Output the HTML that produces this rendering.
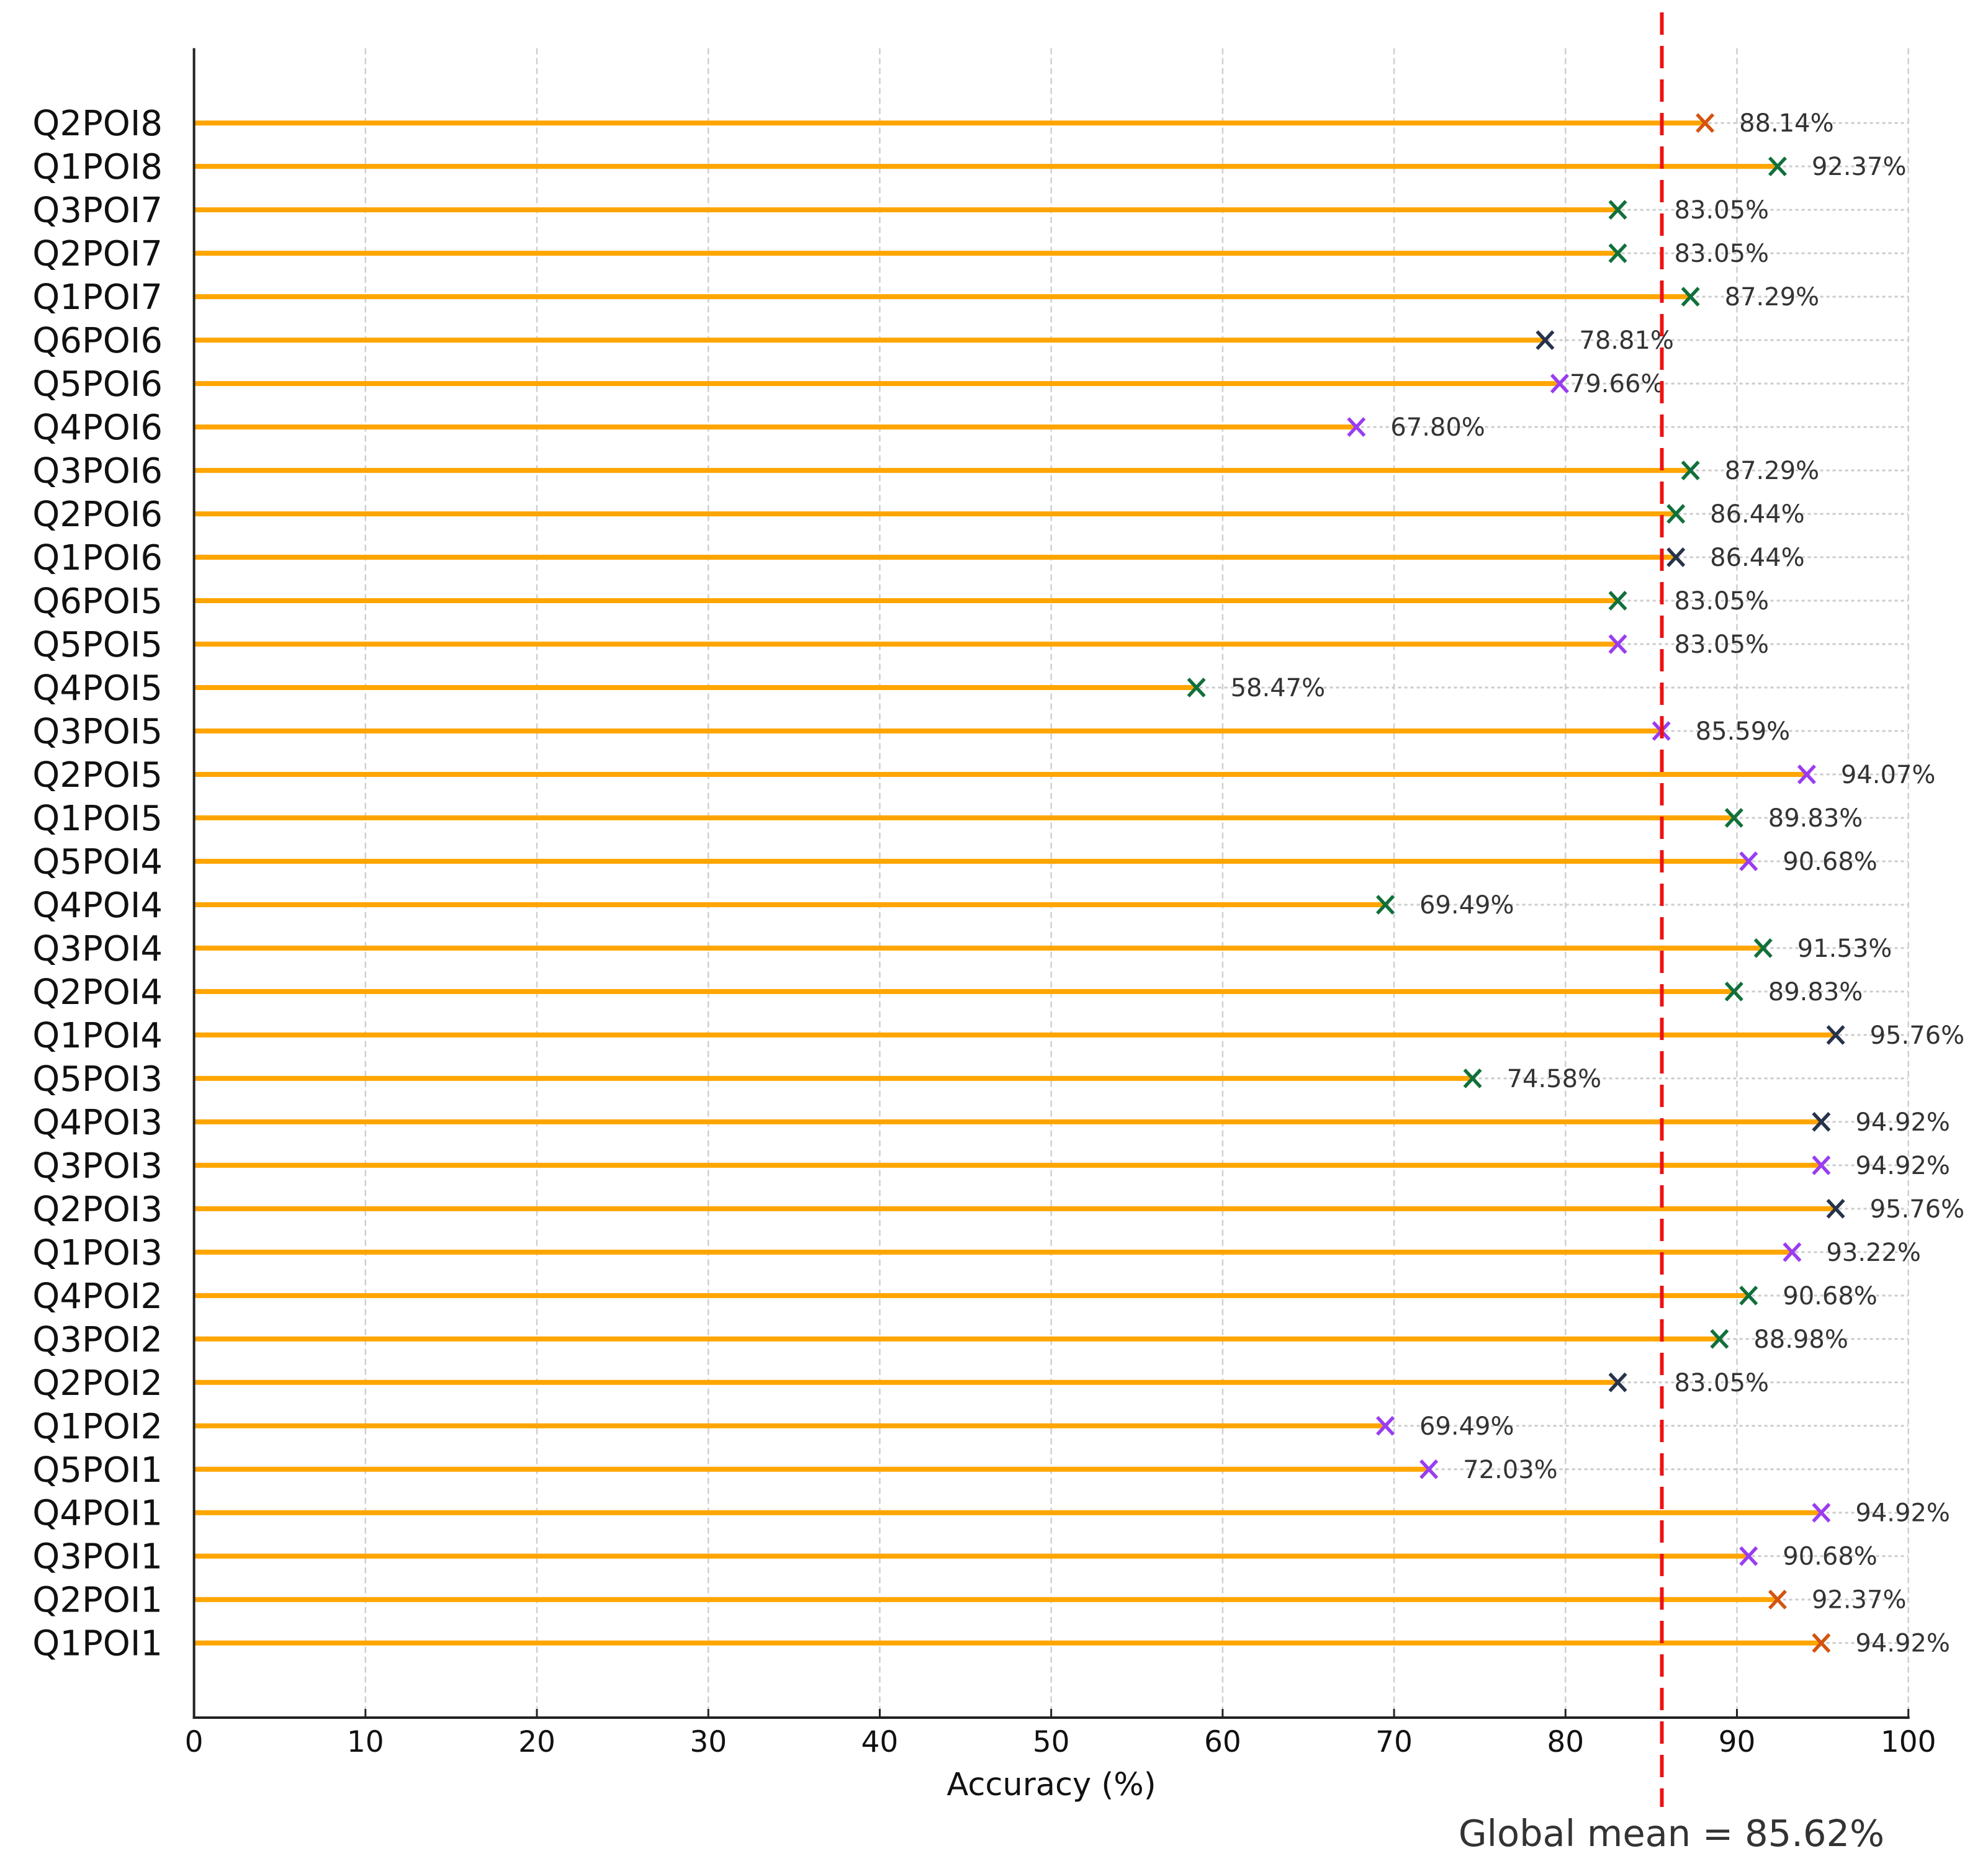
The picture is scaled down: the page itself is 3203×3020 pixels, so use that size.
<!DOCTYPE html>
<html><head><meta charset="utf-8"><style>
html,body{margin:0;padding:0;background:#fff;}
svg{display:block;font-family:"DejaVu Sans","Liberation Sans",sans-serif;}
</style></head><body>
<svg id="chart" width="3203" height="3020" viewBox="0 0 3203 3020" xmlns="http://www.w3.org/2000/svg">
<g id="grid"></g>
<g id="rows"></g>
<g id="axes"></g>
</svg>
<script>
const categories = ["Q2POI8","Q1POI8","Q3POI7","Q2POI7","Q1POI7","Q6POI6","Q5POI6","Q4POI6","Q3POI6","Q2POI6","Q1POI6","Q6POI5","Q5POI5","Q4POI5","Q3POI5","Q2POI5","Q1POI5","Q5POI4","Q4POI4","Q3POI4","Q2POI4","Q1POI4","Q5POI3","Q4POI3","Q3POI3","Q2POI3","Q1POI3","Q4POI2","Q3POI2","Q2POI2","Q1POI2","Q5POI1","Q4POI1","Q3POI1","Q2POI1","Q1POI1"];
const values = [88.14,92.37,83.05,83.05,87.29,78.81,79.66,67.80,87.29,86.44,86.44,83.05,83.05,58.47,85.59,94.07,89.83,90.68,69.49,91.53,89.83,95.76,74.58,94.92,94.92,95.76,93.22,90.68,88.98,83.05,69.49,72.03,94.92,90.68,92.37,94.92];
const groups = ["r","g","g","g","g","n","p","p","g","g","n","g","p","g","p","p","g","p","g","g","g","n","g","n","p","n","p","g","g","n","p","p","p","p","r","r"];
const xTicks = [0,10,20,30,40,50,60,70,80,90,100];
const globalMean = 85.62;

const colorMap = {r:"#d3540f", g:"#11703a", p:"#9a3cf0", n:"#26334a"};
const NS = "http://www.w3.org/2000/svg";
const X0 = 312.6, X1 = 3074.7, YT = 77.6, YB = 2768;
const ROW0 = 198.2, ROWN = 2647.7;
function xs(v){ return X0 + (v - 0) / (100 - 0) * (X1 - X0); }
function ys(i){ return ROW0 + i * (ROWN - ROW0) / (categories.length - 1); }
function mk(tag, attrs, parent){ const e = document.createElementNS(NS, tag); for (const k in attrs) e.setAttribute(k, attrs[k]); parent.appendChild(e); return e; }

const grid = document.getElementById('grid');
const rows = document.getElementById('rows');
const axes = document.getElementById('axes');

xTicks.forEach(t => {
  if (t === 0) return;
  const l = mk('line', {x1: xs(t), x2: xs(t), y1: YT, y2: YB, stroke: "#cfcfcf", "stroke-width": 2.5, "stroke-dasharray": "10 6"}, grid);
  
  
});
categories.forEach((c, i) => {
  const l = mk('line', {x1: xs(0), x2: xs(100), y1: ys(i), y2: ys(i), stroke: "#cccccc", "stroke-width": 3, "stroke-dasharray": "5 5"}, grid);
  
  
});

const meanX = xs(globalMean);
categories.forEach((c, i) => {
  const y = ys(i), v = values[i], x = xs(v);
  const stem = mk('line', {x1: xs(0), x2: x, y1: y, y2: y, stroke: "#ffa500", "stroke-width": 8}, rows);
  
  
  const col = colorMap[groups[i]];
  const m = mk('path', {d: `M${x-13},${y-14}L${x+13},${y+14}M${x-13},${y+14}L${x+13},${y-14}`, stroke: col, "stroke-width": 5.5, fill: "none"}, rows);
  
  
  let tx = x + 55;
  if (tx > meanX - 120 && tx < meanX + 20 && x < meanX - 40) tx = meanX + 20;
  if (x > meanX - 180 && x < meanX - 120) tx = x + 16;
  const t = mk('text', {x: tx, y: y + 14, "font-size": 40, fill: "#333"}, rows);
  t.textContent = v.toFixed(2) + "%";
  
  
  const yl = mk('text', {x: 262, y: y + 20, "font-size": 56, fill: "#111", "text-anchor": "end"}, axes);
  yl.textContent = c;
  
  
});

const ml = mk('line', {x1: meanX, x2: meanX, y1: 20, y2: 2912, stroke: "#ee1111", "stroke-width": 6, "stroke-dasharray": "36 18"}, axes);



const ls = mk('line', {x1: X0, x2: X0, y1: YT, y2: YB + 2, stroke: "#222", "stroke-width": 4}, axes);


const bs = mk('line', {x1: X0 - 2, x2: X1 + 2, y1: YB, y2: YB, stroke: "#222", "stroke-width": 4}, axes);



xTicks.forEach(t => {
  const tk = mk('line', {x1: xs(t), x2: xs(t), y1: YB, y2: YB - 14, stroke: "#222", "stroke-width": 3}, axes);
  
  
  const tl = mk('text', {x: xs(t), y: 2823, "font-size": 47, fill: "#111", "text-anchor": "middle"}, axes);
  tl.textContent = t;
  
  
});

const xt = mk('text', {x: 1694, y: 2893, "font-size": 51, fill: "#111", "text-anchor": "middle"}, axes);
xt.textContent = "Accuracy (%)";



const gm = mk('text', {x: 2693, y: 2975, "font-size": 59, fill: "#333", "text-anchor": "middle"}, axes);
gm.textContent = "Global mean = " + globalMean.toFixed(2) + "%";


</script>
</body></html>
